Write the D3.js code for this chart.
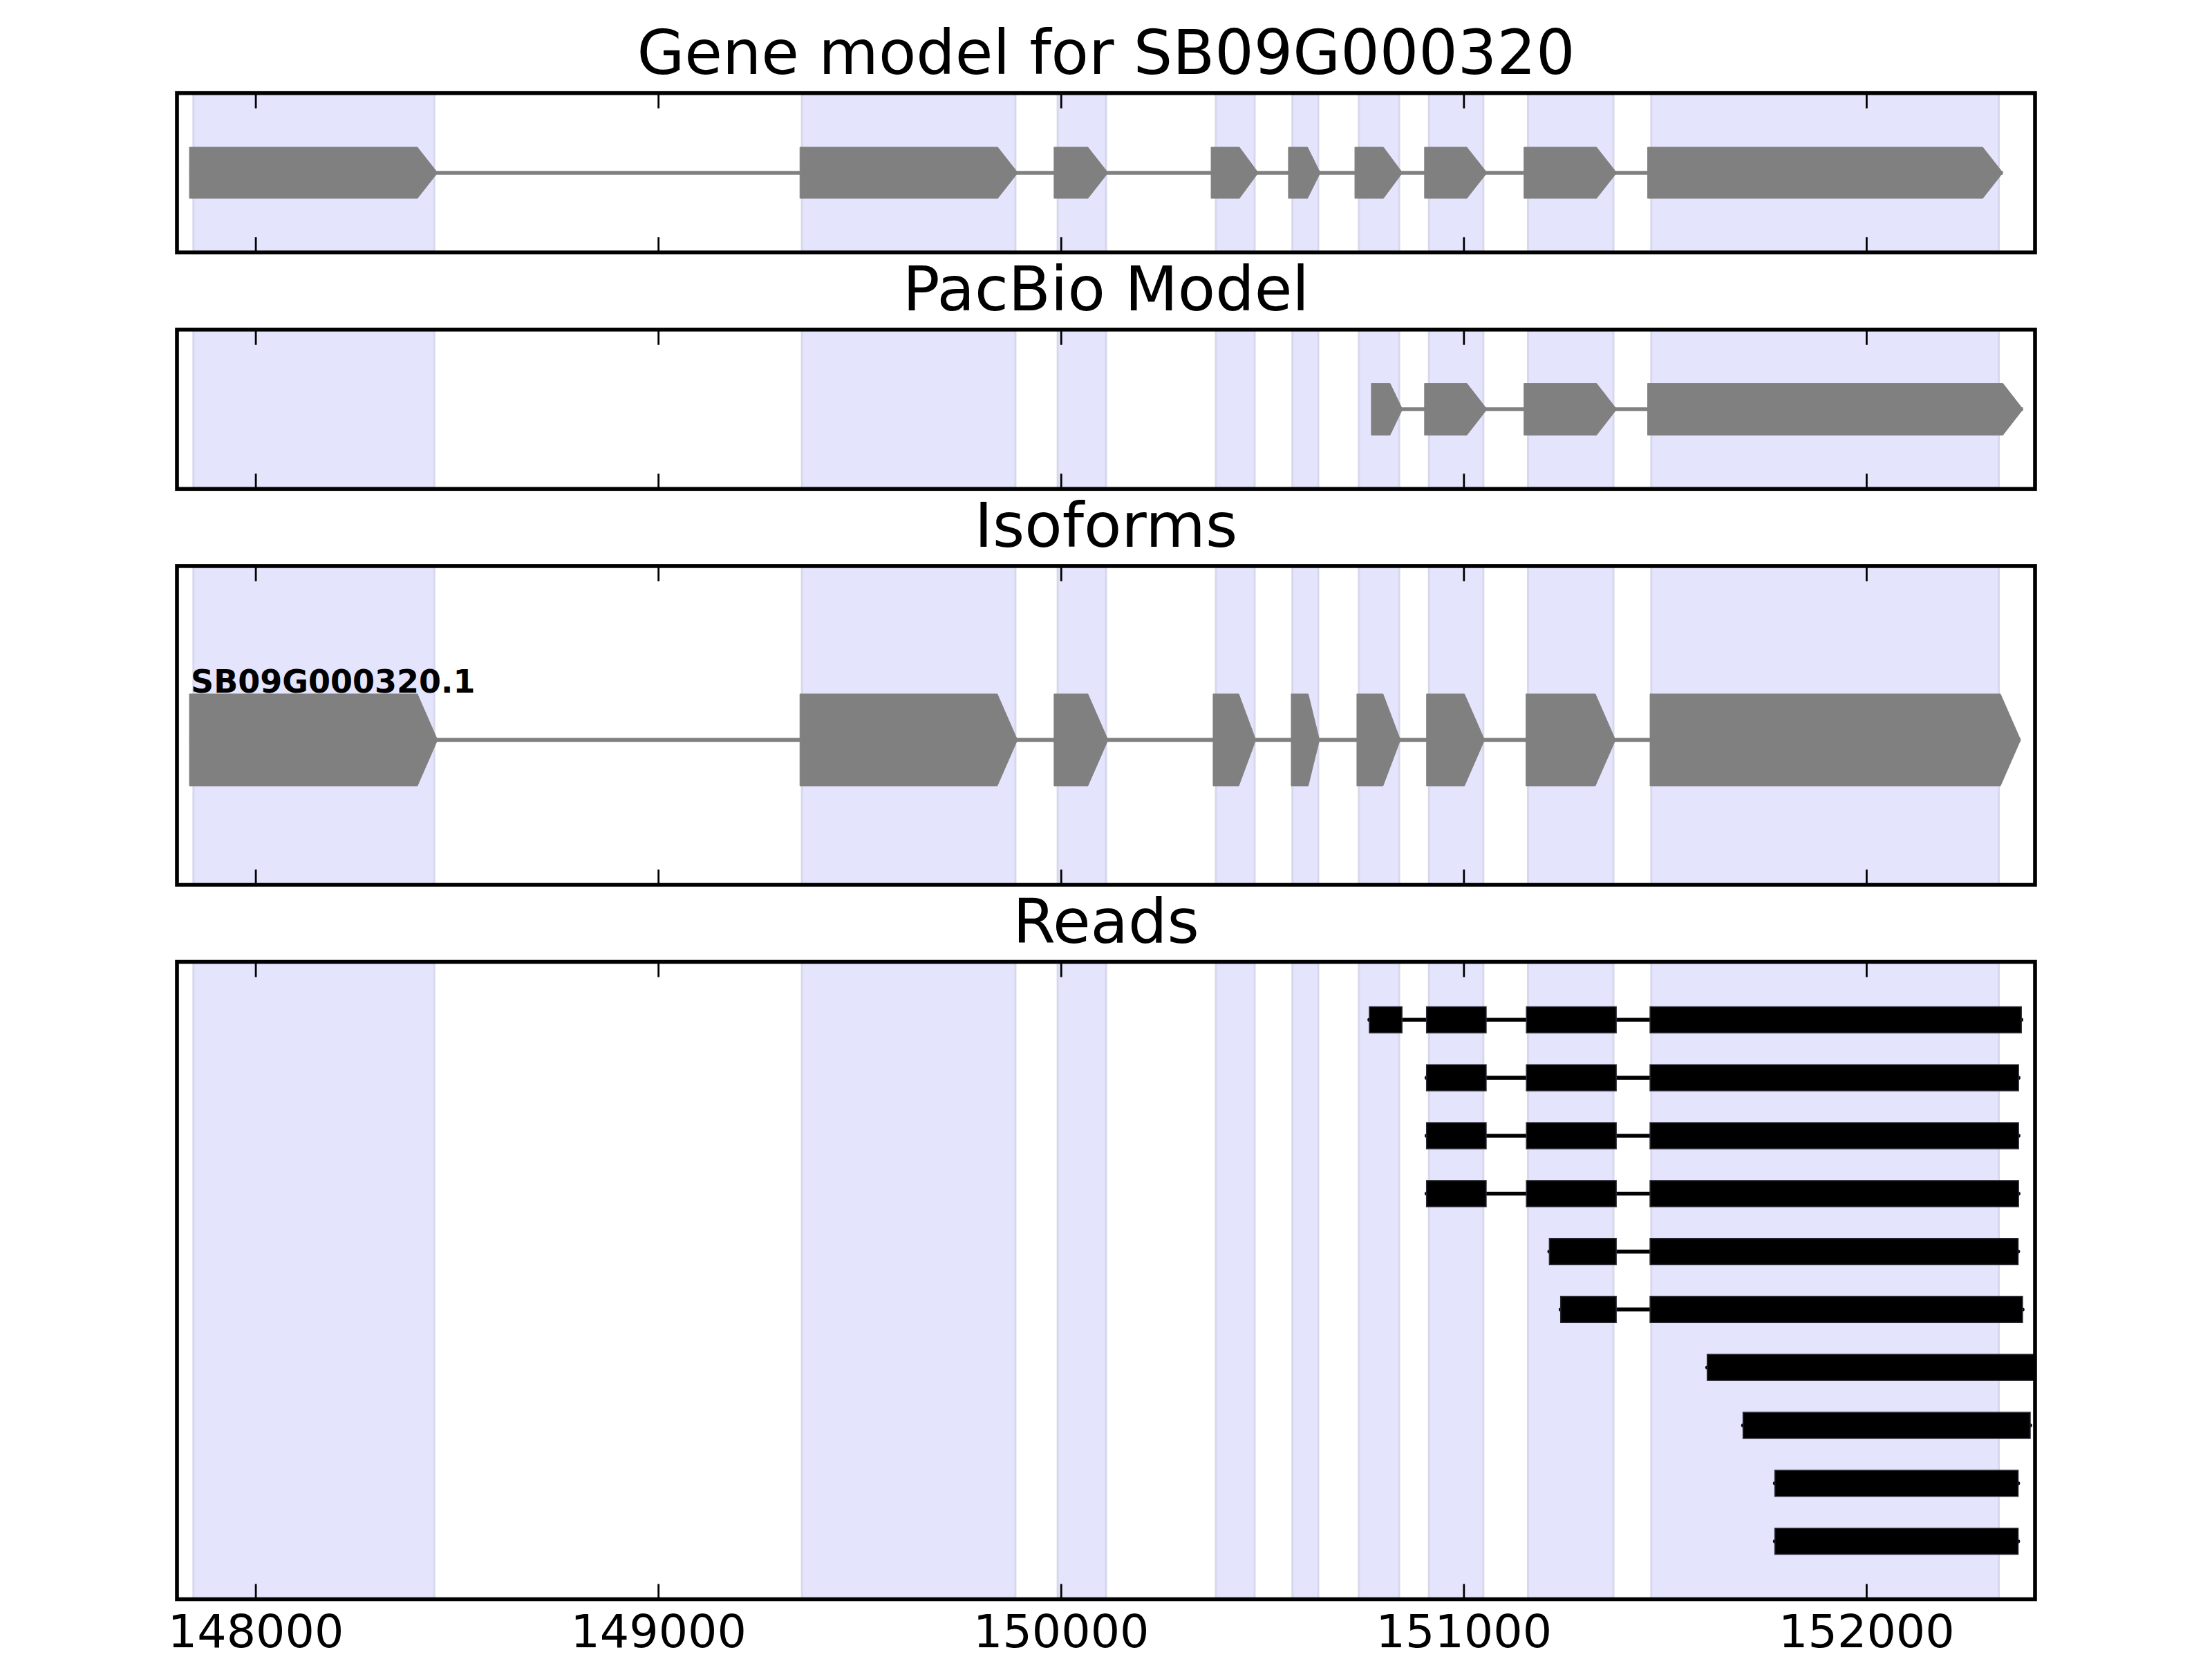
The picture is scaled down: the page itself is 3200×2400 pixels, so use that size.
<!DOCTYPE html>
<html>
<head>
<meta charset="utf-8">
<script src="https://cdn.jsdelivr.net/npm/d3@7"></script>
<style>
body { margin: 0; background: #fff; }
text { font-family: "DejaVu Sans", sans-serif; }
</style>
</head>
<body>
<script>
// genomic window and ticks
var xDomain = [147805, 152419];
var tickValues = [148000, 149000, 150000, 151000, 152000];

var panelTitles = ["Gene model for SB09G000320", "PacBio Model", "Isoforms", "Reads"];
var panelRatios = [1, 1, 2, 4];

// exons of the gene model, shaded across every panel
var shadedExons = [[147846,148444],[149357,149887],[149992,150112],[150385,150481],[150575,150639],
                   [150740,150840],[150914,151049],[151160,151372],[151466,152329]];

var geneModelExons = [[147836,148452],[149352,149893],[149983,150117],[150373,150490],[150565,150644],
                      [150730,150848],[150903,151058],[151150,151380],[151457,152339]];

var pacbioExons = [[150771,150848],[150903,151058],[151150,151380],[151457,152389]];

var isoformName = "SB09G000320.1";
var isoformExons = [[147836,148452],[149352,149892],[149983,150117],[150378,150484],[150572,150642],
                    [150735,150843],[150908,151052],[151155,151377],[151463,152383]];

var reads = [
	[[150766,150847],[150908,151056],[151156,151379],[151463,152385]],
	[[150908,151056],[151156,151379],[151463,152378]],
	[[150908,151056],[151156,151379],[151463,152378]],
	[[150908,151056],[151156,151379],[151463,152378]],
	[[151213,151379],[151463,152377]],
	[[151241,151379],[151463,152388]],
	[[151605,152419]],
	[[151694,152407]],
	[[151773,152377]],
	[[151773,152377]]
];

var W = 3200, H = 2400;
var left = 256, right = 2944;
var top0 = 134.7, unit = 230.5, gap = 111.6;

var svg = d3.select("body").append("svg")
			.attr("width", W).attr("height", H)
			.attr("viewBox", "0 0 " + W + " " + H);
svg.append("rect").attr("width", W).attr("height", H).attr("fill", "white");

var x = d3.scaleLinear().domain(xDomain).range([left, right]);

// panel boxes
var panels = [];
var yy = top0;
for (var i = 0; i < panelRatios.length; i++){
	var h = panelRatios[i] * unit;
	panels.push({top: yy, bottom: yy + h, title: panelTitles[i]});
	yy += h + gap;
}

function arrowPoints(e, yTop, yBot){
	var len = e[1] - e[0];
	var head = Math.min(50, 0.4 * len);
	var x0 = x(e[0]), x1 = x(e[1]), xh = x(e[1] - head);
	var ym = (yTop + yBot) / 2;
	return [[x0,yTop],[xh,yTop],[x1,ym],[xh,yBot],[x0,yBot]].map(function(p){ return p.join(","); }).join(" ");
}

function drawGene(g, exons, y, center, height){
	var yTop = y(center - height/2), yBot = y(center + height/2), ym = y(center);
	g.append("line")
		.attr("x1", x(exons[0][0])).attr("x2", x(exons[exons.length-1][1]))
		.attr("y1", ym).attr("y2", ym)
		.attr("stroke", "#808080").attr("stroke-width", 5.6);
	g.selectAll(".exon").data(exons).enter().append("polygon")
		.attr("class", "exon")
		.attr("points", function(d){ return arrowPoints(d, yTop, yBot); })
		.attr("fill", "#808080")
		.attr("stroke", "#808080")
		.attr("stroke-width", 1);
	return yTop;
}

panels.forEach(function(p, i){
	var g = svg.append("g");
	var clipId = "clip" + i;
	svg.append("clipPath").attr("id", clipId).append("rect")
		.attr("x", left).attr("y", p.top).attr("width", right - left).attr("height", p.bottom - p.top);
	var body = g.append("g").attr("clip-path", "url(#" + clipId + ")");

	body.selectAll(".shade").data(shadedExons).enter().append("rect")
		.attr("class", "shade")
		.attr("x", function(d){ return x(d[0]); })
		.attr("width", function(d){ return x(d[1]) - x(d[0]); })
		.attr("y", p.top).attr("height", p.bottom - p.top)
		.attr("fill", "#e4e4fd")
		.attr("stroke", "#d8d8ec")
		.attr("stroke-width", 3);

	var y = d3.scaleLinear().domain([0, 1]).range([p.top, p.bottom]);

	if (i == 0){
		drawGene(body, geneModelExons, y, 0.5, 0.321);
	} else if (i == 1){
		drawGene(body, pacbioExons, y, 0.5, 0.325);
	} else if (i == 2){
		var yTop = drawGene(body, isoformExons, y, 0.5456, 0.2885);
		body.append("text")
			.attr("x", x(isoformExons[0][0]) + 2)
			.attr("y", yTop - 2)
			.attr("font-size", 46)
			.attr("font-weight", "bold")
			.attr("fill", "black")
			.text(isoformName);
	} else {
		var yr = d3.scaleLinear().domain([0, reads.length + 1]).range([p.top, p.bottom]);
		var bh = 0.45 * (yr(1) - yr(0));
		reads.forEach(function(r, j){
			var rg = body.append("g");
			var cy = yr(j + 1);
			rg.append("line")
				.attr("x1", x(r[0][0])).attr("x2", x(r[r.length-1][1]))
				.attr("y1", cy).attr("y2", cy)
				.attr("stroke", "black").attr("stroke-width", 5.6)
				.attr("stroke-linecap", "round");
			rg.selectAll("rect").data(r).enter().append("rect")
				.attr("x", function(d){ return x(d[0]); })
				.attr("width", function(d){ return x(d[1]) - x(d[0]); })
				.attr("y", cy - bh/2).attr("height", bh)
				.attr("fill", "black")
				.attr("stroke", "#2a2a33")
				.attr("stroke-width", 1.5);
		});
	}

	// ticks, inward on top and bottom
	var axB = d3.axisBottom(x).tickValues(tickValues).tickSizeInner(-22).tickSizeOuter(0).tickPadding(22);
	var axT = d3.axisTop(x).tickValues(tickValues).tickSizeInner(-22).tickSizeOuter(0).tickFormat("");
	var gb = g.append("g").attr("transform", "translate(0," + p.bottom + ")").call(axB);
	var gt = g.append("g").attr("transform", "translate(0," + p.top + ")").call(axT);
	[gb, gt].forEach(function(a){
		a.select(".domain").remove();
		a.selectAll(".tick line").attr("stroke", "black").attr("stroke-width", 2.8);
	});
	if (i == panels.length - 1){
		gb.selectAll(".tick text")
			.attr("font-size", 66.7)
			.attr("font-family", "DejaVu Sans")
			.attr("fill", "black")
			.text(function(d){ return d; });
	} else {
		gb.selectAll(".tick text").remove();
	}

	// frame
	g.append("rect")
		.attr("x", left).attr("y", p.top)
		.attr("width", right - left).attr("height", p.bottom - p.top)
		.attr("fill", "none").attr("stroke", "black").attr("stroke-width", 5.6);

	g.append("text")
		.attr("x", (left + right) / 2)
		.attr("y", p.top - 27.5)
		.attr("text-anchor", "middle")
		.attr("font-size", 88.9)
		.attr("fill", "black")
		.text(p.title);
});
</script>
</body>
</html>
